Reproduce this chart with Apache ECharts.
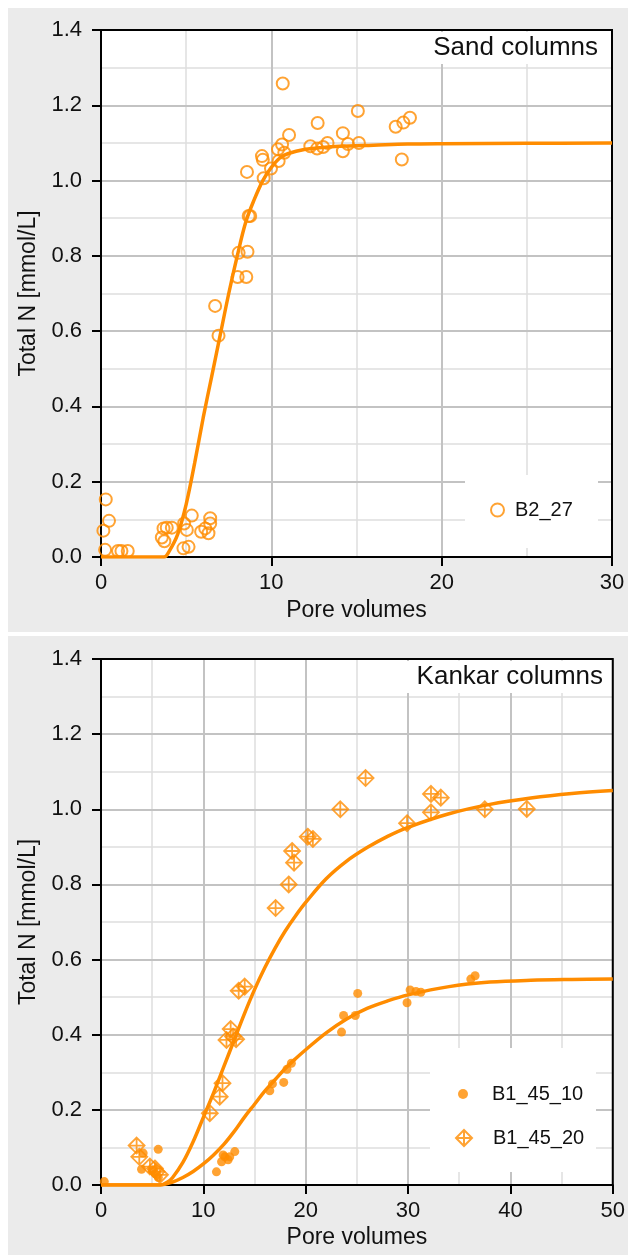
<!DOCTYPE html>
<html><head><meta charset="utf-8">
<script src="https://cdn.jsdelivr.net/npm/echarts@6/dist/echarts.min.js"></script>
<style>html,body{margin:0;padding:0;background:#fff}#c{width:628px;height:1255px}</style>
</head><body><div id="c"></div>
<script>
// ---- Sand columns (top panel) ----
const sandPV = [0.28,0.47,0.14,0.24,1.0,1.2,1.57,3.57,3.72,3.67,3.86,4.16,4.84,4.88,5.04,5.14,5.33,5.88,6.12,6.31,6.41,6.41,6.7,6.9,8.02,8.53,8.08,8.6,8.67,8.76,8.57,9.45,9.5,9.55,9.98,10.43,10.39,10.63,10.76,11.04,10.67,12.29,12.69,12.72,13.04,13.3,14.2,14.2,14.5,15.08,15.14,17.3,17.66,17.75,18.14];
const sandN  = [0.153,0.096,0.07,0.019,0.016,0.016,0.016,0.052,0.042,0.076,0.078,0.078,0.023,0.089,0.072,0.027,0.11,0.067,0.076,0.063,0.103,0.089,0.667,0.588,0.744,0.744,0.808,0.811,0.906,0.906,1.023,1.065,1.055,1.006,1.032,1.052,1.083,1.096,1.074,1.121,1.258,1.091,1.085,1.153,1.089,1.100,1.126,1.078,1.097,1.185,1.100,1.143,1.056,1.154,1.167];
const sandFitPV = [0,3.0,3.7,4.0,4.5,5.0,5.5,6.0,6.5,7.0,7.5,8.0,8.5,9.0,9.5,10.0,10.5,11,12,13,14,16,18,20,25,30];
const sandFitN  = [0,0,0,0.015,0.06,0.14,0.25,0.37,0.48,0.59,0.70,0.80,0.89,0.95,1.00,1.035,1.06,1.072,1.083,1.088,1.091,1.094,1.097,1.098,1.099,1.10];

// ---- Kankar columns (bottom panel) ----
const b10PV = [0.32,3.96,4.12,5.0,5.3,5.59,5.6,11.28,11.78,11.93,12.1,12.42,12.58,13.07,16.49,16.75,17.85,18.17,18.6,23.5,23.7,24.85,25.08,29.9,30.2,30.77,31.25,36.13,36.55];
const b10N  = [0.009,0.042,0.085,0.04,0.03,0.095,0.02,0.035,0.062,0.08,0.075,0.067,0.075,0.089,0.251,0.269,0.273,0.308,0.324,0.407,0.451,0.451,0.51,0.485,0.519,0.515,0.513,0.548,0.557];
const b20PV = [3.48,3.74,4.78,5.27,5.43,5.76,10.63,11.6,11.87,12.26,12.67,12.9,13.2,13.45,14.04,17.06,18.34,18.67,18.86,20.2,20.7,23.38,25.85,29.9,32.24,32.24,33.2,37.5,41.6];
const b20N  = [0.105,0.075,0.049,0.044,0.035,0.027,0.191,0.235,0.271,0.386,0.415,0.395,0.388,0.517,0.528,0.737,0.8,0.889,0.858,0.927,0.921,1.0,1.083,0.963,1.041,0.992,1.031,1.0,1.001];
const b10FitPV = [0,5.8,7,8,9,10,11,12,13,14,15,16,17,18,19,20,22,24,26,28,30,34,38,42,46,50];
const b10FitN  = [0,0,0.008,0.02,0.036,0.056,0.08,0.108,0.142,0.18,0.215,0.25,0.28,0.31,0.336,0.36,0.405,0.442,0.47,0.49,0.506,0.528,0.54,0.545,0.547,0.548];
const b20FitPV = [0,5.8,6.5,7,8,9,10,11,12,13,14,15,16,17,18,19,20,22,24,26,28,30,34,38,42,46,50];
const b20FitN  = [0,0,0.008,0.02,0.06,0.115,0.18,0.245,0.315,0.385,0.455,0.52,0.578,0.63,0.676,0.716,0.752,0.815,0.862,0.898,0.928,0.952,0.988,1.013,1.03,1.042,1.05];

const yTicks = [0,0.2,0.4,0.6,0.8,1.0,1.2,1.4];
const minorX1 = [5,15,25];
const minorX2 = [5,15,25,35,45];
const minorY  = [0.1,0.3,0.5,0.7,0.9,1.1,1.3];

const zip = (a,b)=>a.map((v,i)=>[v,b[i]]);
const ORANGE = '#ff8c00';
const TXT = '#111';
const MINOR = '#dedede';
const FONT = '"Liberation Sans", Arial, sans-serif';
const DIAMOND = 'path://M0,-10L10,0L0,10L-10,0Z M0,-10L0,10 M-10,0L10,0';

function xAx(gi, max, gap){
  return {type:'value', gridIndex:gi, min:0, max:max, interval:10, z:2,
    name:'Pore volumes', nameLocation:'middle', nameGap:gap,
    nameTextStyle:{fontSize:23,color:TXT,fontFamily:FONT},
    axisLine:{show:true,onZero:false,lineStyle:{color:'#000',width:2}},
    axisTick:{show:true,length:9,lineStyle:{color:'#000',width:2}},
    axisLabel:{fontSize:22,color:TXT,margin:15,fontFamily:FONT},
    splitLine:{show:true,lineStyle:{color:'#c3c3c3',width:2}}};
}
function yAx(gi){
  return {type:'value', gridIndex:gi, min:0, max:1.4, interval:0.2, z:2,
    name:'Total N [mmol/L]', nameLocation:'middle', nameGap:42,
    nameTextStyle:{fontSize:23,color:TXT,fontFamily:FONT},
    axisLine:{show:true,onZero:false,lineStyle:{color:'#000',width:2}},
    axisTick:{show:true,length:9,lineStyle:{color:'#000',width:2}},
    axisLabel:{fontSize:22,color:TXT,margin:19,fontFamily:FONT,
      formatter:v=>{const t=yTicks.find(k=>Math.abs(k-v)<1e-9);return (t===undefined?v:t).toFixed(1);}},
    splitLine:{show:true,lineStyle:{color:'#c3c3c3',width:2}}};
}
// minor grid lines drawn as markLines through the axes' own scales
function minorLines(xs, ys){
  return {silent:true, symbol:'none', label:{show:false}, animation:false, z:1,
    lineStyle:{color:MINOR, width:1.5, type:'solid'},
    emphasis:{disabled:true},
    data:[...xs.map(v=>({xAxis:v})), ...ys.map(v=>({yAxis:v}))]};
}

const chart = echarts.init(document.getElementById('c'), null, {renderer:'canvas'});
chart.setOption({
  animation:false,
  backgroundColor:'#fff',
  textStyle:{fontFamily:FONT},
  graphic:[
    {type:'rect', z:-10, shape:{x:8,y:8,width:620,height:624}, style:{fill:'#ebebeb'}},
    {type:'rect', z:-10, shape:{x:8,y:636,width:620,height:619}, style:{fill:'#ebebeb'}},
    {type:'rect', z:-9, shape:{x:101,y:30,width:511,height:527}, style:{fill:'#fff'}},
    {type:'rect', z:-9, shape:{x:101,y:659,width:512,height:526}, style:{fill:'#fff'}},
    {type:'rect', z:2.5, shape:{x:465,y:475,width:133,height:73}, style:{fill:'#fff'}},
    {type:'rect', z:2.5, shape:{x:430,y:1048,width:166,height:124}, style:{fill:'#fff'}},
    {type:'rect', z:2.5, shape:{x:420,y:32,width:188,height:32}, style:{fill:'#fff'}},
    {type:'rect', z:2.5, shape:{x:405,y:661,width:206,height:32}, style:{fill:'#fff'}},
    {type:'text', z:5, x:598, y:48, style:{text:'Sand columns', fontSize:26, fill:TXT, fontFamily:FONT, textAlign:'right', textVerticalAlign:'middle'}},
    {type:'text', z:5, x:603, y:677, style:{text:'Kankar columns', fontSize:26, fill:TXT, fontFamily:FONT, textAlign:'right', textVerticalAlign:'middle'}}
  ],
  grid:[
    {left:101, top:30, width:511, height:527, show:true, backgroundColor:'rgba(0,0,0,0)', borderColor:'#000', borderWidth:2, z:3},
    {left:101, top:659, width:512, height:526, show:true, backgroundColor:'rgba(0,0,0,0)', borderColor:'#000', borderWidth:2, z:3}
  ],
  xAxis:[xAx(0,30,42), xAx(1,50,41)],
  yAxis:[yAx(0), yAx(1)],
  legend:[
    {data:['B2_27'], left:490, top:500, itemWidth:13, itemHeight:13, padding:0, z:6,
     textStyle:{fontSize:20,color:TXT,fontFamily:FONT,padding:[0,0,0,6]}},
    {data:['B1_45_10'], left:458, top:1084, itemWidth:10, itemHeight:10, padding:0, z:6,
     textStyle:{fontSize:20,color:TXT,fontFamily:FONT,padding:[0,0,0,19]}},
    {data:['B1_45_20'], left:455, top:1128, itemWidth:16, itemHeight:16, padding:0, z:6,
     textStyle:{fontSize:20,color:TXT,fontFamily:FONT,padding:[0,0,0,16]}}
  ],
  series:[
    {name:'minor1', type:'line', xAxisIndex:0, yAxisIndex:0, z:1, data:[], markLine:minorLines(minorX1, minorY)},
    {name:'minor2', type:'line', xAxisIndex:1, yAxisIndex:1, z:1, data:[], markLine:minorLines(minorX2, minorY)},
    {name:'B2_27', type:'scatter', xAxisIndex:0, yAxisIndex:0, z:4,
     symbol:'circle', symbolSize:12, data:zip(sandPV,sandN),
     itemStyle:{color:'rgba(255,255,255,0)', borderColor:ORANGE, borderWidth:2}},
    {name:'fitSand', type:'line', xAxisIndex:0, yAxisIndex:0, z:5, smooth:0.35,
     showSymbol:false, data:zip(sandFitPV,sandFitN), lineStyle:{color:ORANGE,width:3.5}},
    {name:'B1_45_10', type:'scatter', xAxisIndex:1, yAxisIndex:1, z:4,
     symbol:'circle', symbolSize:9, data:zip(b10PV,b10N),
     itemStyle:{color:ORANGE}},
    {name:'B1_45_20', type:'scatter', xAxisIndex:1, yAxisIndex:1, z:4,
     symbol:DIAMOND, symbolSize:16, data:zip(b20PV,b20N),
     itemStyle:{color:'rgba(255,255,255,0)', borderColor:ORANGE, borderWidth:1.8}},
    {name:'fit10', type:'line', xAxisIndex:1, yAxisIndex:1, z:5, smooth:0.35,
     showSymbol:false, data:zip(b10FitPV,b10FitN), lineStyle:{color:ORANGE,width:3.5}},
    {name:'fit20', type:'line', xAxisIndex:1, yAxisIndex:1, z:5, smooth:0.35,
     showSymbol:false, data:zip(b20FitPV,b20FitN), lineStyle:{color:ORANGE,width:3.5}}
  ]
});
</script></body></html>
